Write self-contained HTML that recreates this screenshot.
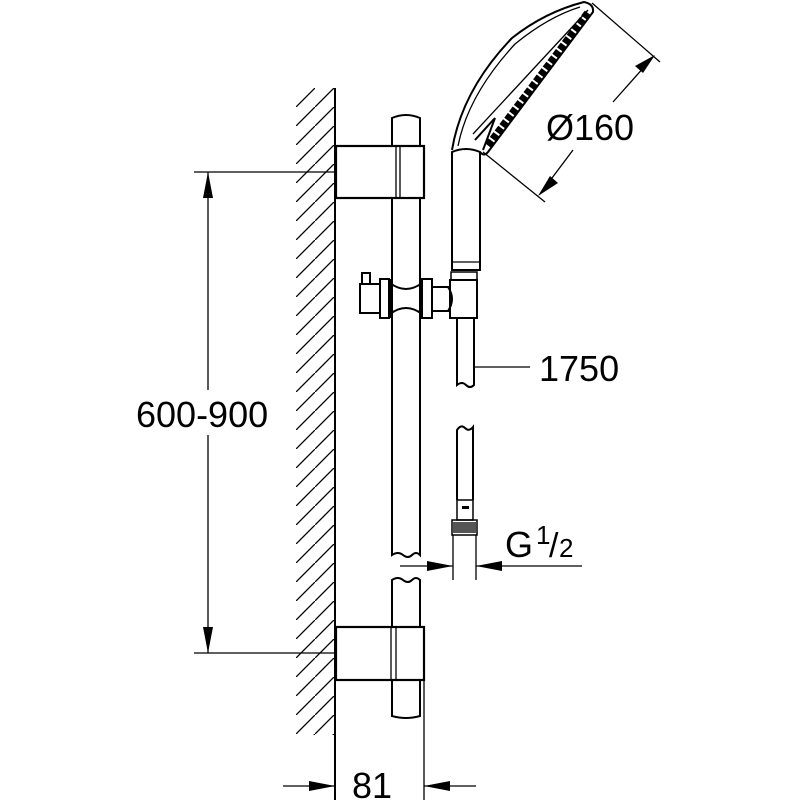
<!DOCTYPE html>
<html><head><meta charset="utf-8"><style>html,body{margin:0;padding:0;background:#fff}svg{display:block}</style></head>
<body>
<svg width="800" height="800" viewBox="0 0 800 800" xmlns="http://www.w3.org/2000/svg" font-family="Liberation Sans, sans-serif">
<defs>
<pattern id="hp" width="19" height="19" patternUnits="userSpaceOnUse" patternTransform="translate(296,88)">
<line x1="-2" y1="21" x2="21" y2="-2" stroke="#000" stroke-width="1.3"/>
</pattern>
</defs>
<rect x="296" y="88" width="39" height="647" fill="url(#hp)"/>
<g stroke="#000" fill="none" stroke-width="2">
<line x1="335" y1="88" x2="335" y2="800"/>
<line x1="194" y1="172" x2="335" y2="172" stroke-width="1.3"/>
<line x1="194" y1="653" x2="335" y2="653" stroke-width="1.3"/>
<line x1="208" y1="172" x2="208" y2="390" stroke-width="1.3"/>
<line x1="208" y1="435" x2="208" y2="653" stroke-width="1.3"/>
<rect x="336" y="146" width="88" height="52" stroke-width="2.2"/>
<line x1="396" y1="146" x2="396" y2="198" stroke-width="1.3"/>
<line x1="400" y1="146" x2="400" y2="198" stroke-width="1.3"/>
<rect x="336" y="627" width="88" height="53" stroke-width="2.2"/>
<line x1="391" y1="627" x2="391" y2="680" stroke-width="1.3"/>
<line x1="396" y1="627" x2="396" y2="680" stroke-width="1.3"/>
<path d="M392 146 V118 Q406 112 420 118 V146"/>
<path d="M392 198 V555 Q398 551 403 555 Q408 559 412 555 Q416 551 420 555 V198"/>
<path d="M392 627 V580 Q398 576 403 580 Q408 584 412 580 Q416 576 420 580 V627"/>
<path d="M392 680 V716 Q406 720 420 716 V680"/>
<line x1="424" y1="680" x2="424" y2="800" stroke-width="1.3"/>
<rect x="360" y="284" width="20" height="29"/>
<rect x="362" y="273" width="8" height="11"/>
<rect x="380" y="279" width="9" height="39"/>
<line x1="390" y1="279" x2="390" y2="318"/>
<path d="M390 283 Q406 295 422 283 M390 314 Q406 302 422 314"/>
<rect x="422" y="279" width="10" height="39"/>
<rect x="432" y="287" width="18" height="24"/>
<path d="M448 287 Q456 299 448 311"/>
<rect x="450" y="280" width="27" height="38"/>
<rect x="451" y="272" width="26" height="8" stroke-width="1.5"/>
<path d="M457 318 V385 Q462 381 466 385 Q470 389 474 385 V318"/>
<line x1="474" y1="367" x2="530" y2="367" stroke-width="1.3"/>
<path d="M452 270 V152 Q466 146 480 152 V270 Z"/>
<line x1="452" y1="262" x2="480" y2="262" stroke-width="1.3"/>
<path d="M452 150 Q462 90 512 38 Q545 12 584 2 Q594 4 593 12 L488 152 Q484 157 480 152"/>
<path d="M458 146 Q468 95 515 44 Q548 17 580 7" stroke-width="1.3"/>
<path d="M473 134 L588 10" stroke-width="1.3"/>
<path d="M475 140 L495 118 L483 150"/>
<path d="M588 13 L488 146" stroke-width="8" stroke-dasharray="6 2"/>
<line x1="592" y1="3" x2="660" y2="62" stroke-width="1.3"/>
<line x1="483" y1="152" x2="545" y2="202" stroke-width="1.3"/>
<line x1="653" y1="57" x2="613" y2="102" stroke-width="1.3"/>
<line x1="573" y1="150" x2="540" y2="194" stroke-width="1.3"/>
<path d="M457 500 V430 Q461 424 465 428 Q469 432 473 427 V500"/>
<rect x="457" y="500" width="16" height="20" stroke-width="1.5"/>
<rect x="452" y="520" width="25" height="15" stroke-width="1.5"/>
<line x1="453" y1="535" x2="453" y2="580" stroke-width="1.3"/>
<line x1="476" y1="535" x2="476" y2="580" stroke-width="1.3"/>
<line x1="400" y1="566" x2="453" y2="566" stroke-width="1.3"/>
<line x1="476" y1="566" x2="582" y2="566" stroke-width="1.3"/>
<line x1="283" y1="786" x2="335" y2="786" stroke-width="1.3"/>
<line x1="424" y1="786" x2="476" y2="786" stroke-width="1.3"/>
</g>
<rect x="453" y="522" width="23" height="11" fill="#555"/>
<rect x="462" y="506" width="7" height="3" fill="#000"/>
<g fill="#000">
<polygon points="208,172 203,198 213,198"/>
<polygon points="208,653 203,627 213,627"/>
<polygon points="335,786 309,781 309,791"/>
<polygon points="424,786 450,781 450,791"/>
<polygon points="453,566 427,561 427,571"/>
<polygon points="476,566 502,561 502,571"/>
<polygon points="655,55 635,66 643,73"/>
<polygon points="538,196 550,176 558,183"/>
</g>
<g font-size="36" fill="#000">
<text x="136" y="427">600-900</text>
<text x="352" y="798">81</text>
<text x="539" y="381">1750</text>
<text x="546" y="140">Ø160</text>
<text x="505" y="557">G</text>
<text x="536" y="544" font-size="26">1</text>
<text x="549" y="557" font-size="34">/</text>
<text x="559" y="557" font-size="26">2</text>
</g>
</svg>
</body></html>
